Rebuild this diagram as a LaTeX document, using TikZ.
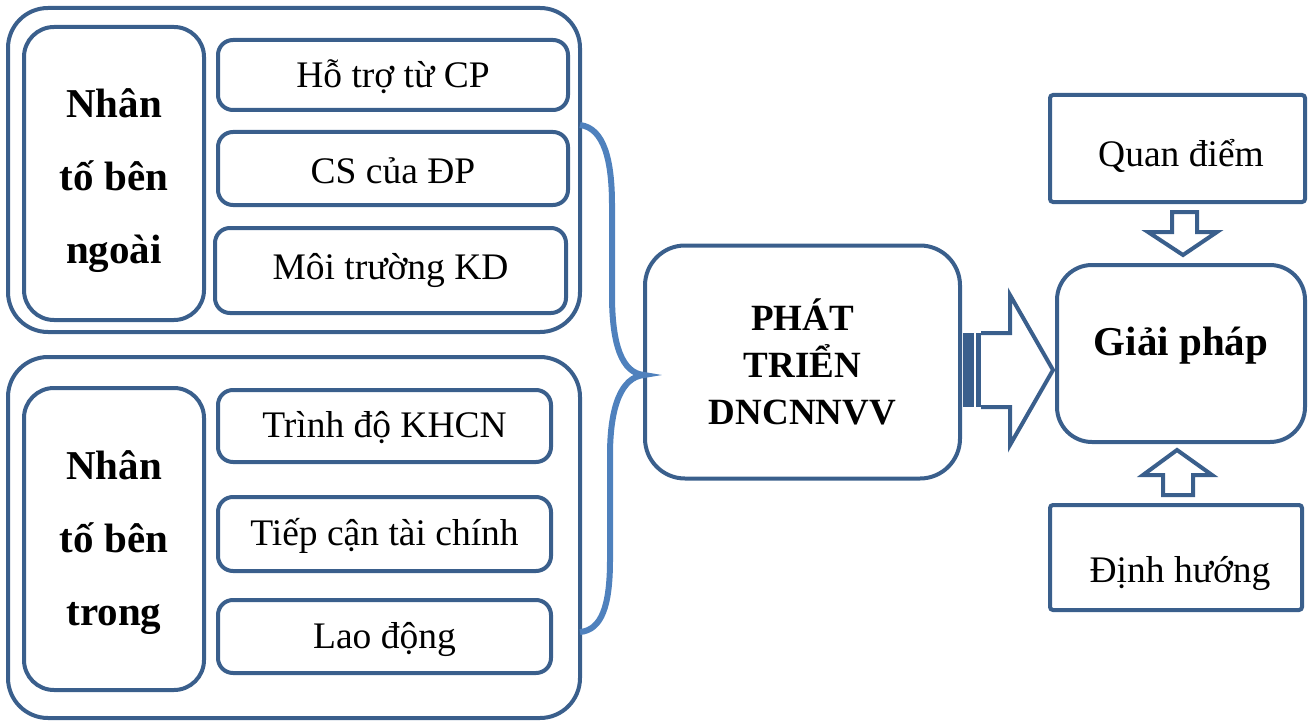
\documentclass[tikz,border=0pt]{standalone}
\usepackage{fontspec}
\setmainfont{Liberation Serif}
\definecolor{boxblue}{RGB}{58,95,140}
\definecolor{braceblue}{RGB}{79,129,189}
\newcommand\txtreg{\fontsize{37.5}{45}\selectfont}
\newcommand\txtbig{\fontsize{41}{73}\selectfont\bfseries}
\newcommand\txtmid{\fontsize{37}{47}\selectfont\bfseries}
\begin{document}
\begin{tikzpicture}[x=1pt,y=-1pt,
  box/.style={draw=boxblue, line width=4pt, rounded corners=#1, inner sep=0pt, outer sep=0pt},
  box/.default=15pt,
  lbl/.style={inner sep=0pt, align=center},
  brace/.style={draw=braceblue, line width=6pt},
  blockarrow/.style={draw=boxblue, line width=4pt, fill=white, line join=miter}]
\useasboundingbox (0,0) rectangle (1313,722);

% top group
\node[box=40pt, minimum width=572pt, minimum height=324pt] (outerA) at (294,170) {};
\node[box=30pt, minimum width=180pt, minimum height=293pt] (leftA) at (114,173.5) {};
\node[lbl, font=\txtbig] (leftAt) at (114,181) {Nhân\\tố bên\\ngoài};
\node[box, minimum width=350pt, minimum height=70pt] (a1) at (393,75) {};
\node[lbl, font=\txtreg] (a1t) at (393,77) {Hỗ trợ từ CP};
\node[box, minimum width=350pt, minimum height=73pt] (a2) at (393,168.5) {};
\node[lbl, font=\txtreg] (a2t) at (393,171) {CS của ĐP};
\node[box, minimum width=351pt, minimum height=85pt] (a3) at (390.5,270.5) {};
\node[lbl, font=\txtreg] (a3t) at (390.5,270) {Môi trường KD};

% bottom group
\node[box=40pt, minimum width=572pt, minimum height=361pt] (outerB) at (294,537.5) {};
\node[box=30pt, minimum width=180pt, minimum height=302pt] (leftB) at (114,539) {};
\node[lbl, font=\txtbig] (leftBt) at (114,543) {Nhân\\tố bên\\trong};
\node[box, minimum width=333pt, minimum height=72pt] (b1) at (384.5,426) {};
\node[lbl, font=\txtreg] (b1t) at (384.5,428) {Trình độ KHCN};
\node[box, minimum width=333pt, minimum height=74pt] (b2) at (384.5,534) {};
\node[lbl, font=\txtreg] (b2t) at (384.5,536) {Tiếp cận tài chính};
\node[box, minimum width=333pt, minimum height=73pt] (b3) at (384.5,636.5) {};
\node[lbl, font=\txtreg] (b3t) at (384.5,639) {Lao động};

% centre
\node[box=40pt, minimum width=315pt, minimum height=233pt, align=center, font=\txtmid] (dev) at (802.5,362) {PHÁT\\TRIỂN\\DNCNNVV};

% right
\node[box=35pt, minimum width=248pt, minimum height=177pt] (giai) at (1181,353.5) {};
\node[lbl, font=\txtbig] (giait) at (1181,346) {Giải pháp};
\node[box=3pt, minimum width=255pt, minimum height=107pt] (quan) at (1177.5,148.5) {};
\node[lbl, font=\txtreg] (quant) at (1181,156) {Quan điểm};
\node[box=3pt, minimum width=252pt, minimum height=105pt] (dinh) at (1176,557.5) {};
\node[lbl, font=\txtreg] (dinht) at (1180,574) {Định hướng};

% brace
\coordinate (bt) at (580,125);
\coordinate (bb) at (580,632);
\coordinate (bm) at (644,375);
\draw[brace] (bt) .. controls (604,128) and (612,160) .. (612,205) -- (612,295)
  .. controls (612,345) and (622,373) .. (bm)
  .. controls (622,377) and (610,405) .. (610,455) -- (610,560)
  .. controls (610,605) and (602,630) .. (bb);

% big right arrow
\fill[boxblue] (963,333) rectangle (974,407);
\fill[boxblue] (976,333) rectangle (981,407);
\draw[blockarrow, fill=none] (981,333) -- (1010,333) -- (1010,295) -- (1053,370) -- (1010,445) -- (1010,407) -- (981,407);

% down arrow
\draw[blockarrow] (1172,212) -- (1197,212) -- (1197,232) -- (1217,232) -- (1183,255) -- (1148,232) -- (1172,232) -- cycle;
% up arrow
\draw[blockarrow] (1163,495) -- (1193,495) -- (1193,475) -- (1212,475) -- (1177,450) -- (1143,475) -- (1163,475) -- cycle;
\end{tikzpicture}
\end{document}
